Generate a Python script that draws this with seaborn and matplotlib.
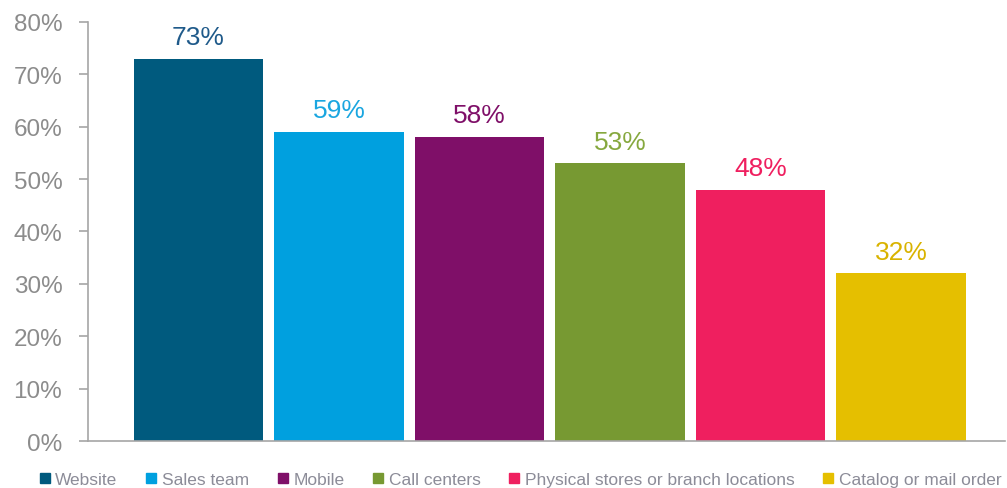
import matplotlib
matplotlib.use("Agg")
import matplotlib.pyplot as plt
import seaborn as sns
import pandas as pd
from matplotlib.lines import Line2D

categories = ["Website", "Sales team", "Mobile", "Call centers",
              "Physical stores or branch locations", "Catalog or mail order"]
values = [73, 59, 58, 53, 48, 32]
colors = ["#005A7E", "#00A0DF", "#7F0F68", "#779932", "#EF1F5F", "#E5BF00"]
label_colors = ["#1F5A8A", "#1AA6E0", "#7F0F68", "#86A83E", "#EF1F5F", "#D9B300"]
yticks = [0, 10, 20, 30, 40, 50, 60, 70, 80]

sns.set_style("white")
plt.rcParams['font.family'] = ['Liberation Sans', 'DejaVu Sans']

df = pd.DataFrame({"cat": categories, "val": values})
fig = plt.figure(figsize=(10.07, 4.89), dpi=100)
ax = fig.add_axes([0.0874, 0.0961, 0.9106, 0.8569])
sns.barplot(data=df, x="cat", y="val", hue="cat", palette=colors,
            legend=False, width=0.92, saturation=1, ax=ax, linewidth=0)

ax.set_xlim(-0.786, 5.74)
ax.set_ylim(0, 80)
ax.set_yticks(yticks)
ax.set_yticklabels([f"{t}%" for t in yticks], fontsize=17.5, color="#8C8C8C")
ax.set_xticks([])
ax.set_xlabel("")
ax.set_ylabel("")
for s in ["top", "right"]:
    ax.spines[s].set_visible(False)
for s in ["left", "bottom"]:
    ax.spines[s].set_color("#A6A6A6")
    ax.spines[s].set_linewidth(1.2)
ax.tick_params(axis="y", which="major", left=True, length=6.5, width=1.2,
               color="#A6A6A6", pad=12, direction="out")

for i, (v, c) in enumerate(zip(values, label_colors)):
    ax.annotate(f"{v}%", (i, v), xytext=(0, 7), textcoords="offset points",
                ha="center", va="bottom", fontsize=19, color=c)

handles = [Line2D([0], [0], marker="s", linestyle="none", markersize=7,
                  markerfacecolor=c, markeredgecolor=c) for c in colors]
fig.legend(handles, categories, loc="lower center", ncol=6,
           bbox_to_anchor=(0.516, -0.03), frameon=False, fontsize=12.5,
           labelcolor="#8C8C98", handletextpad=0.2, columnspacing=1.55,
           handlelength=0.8)

fig.savefig("out.png", dpi=100)
